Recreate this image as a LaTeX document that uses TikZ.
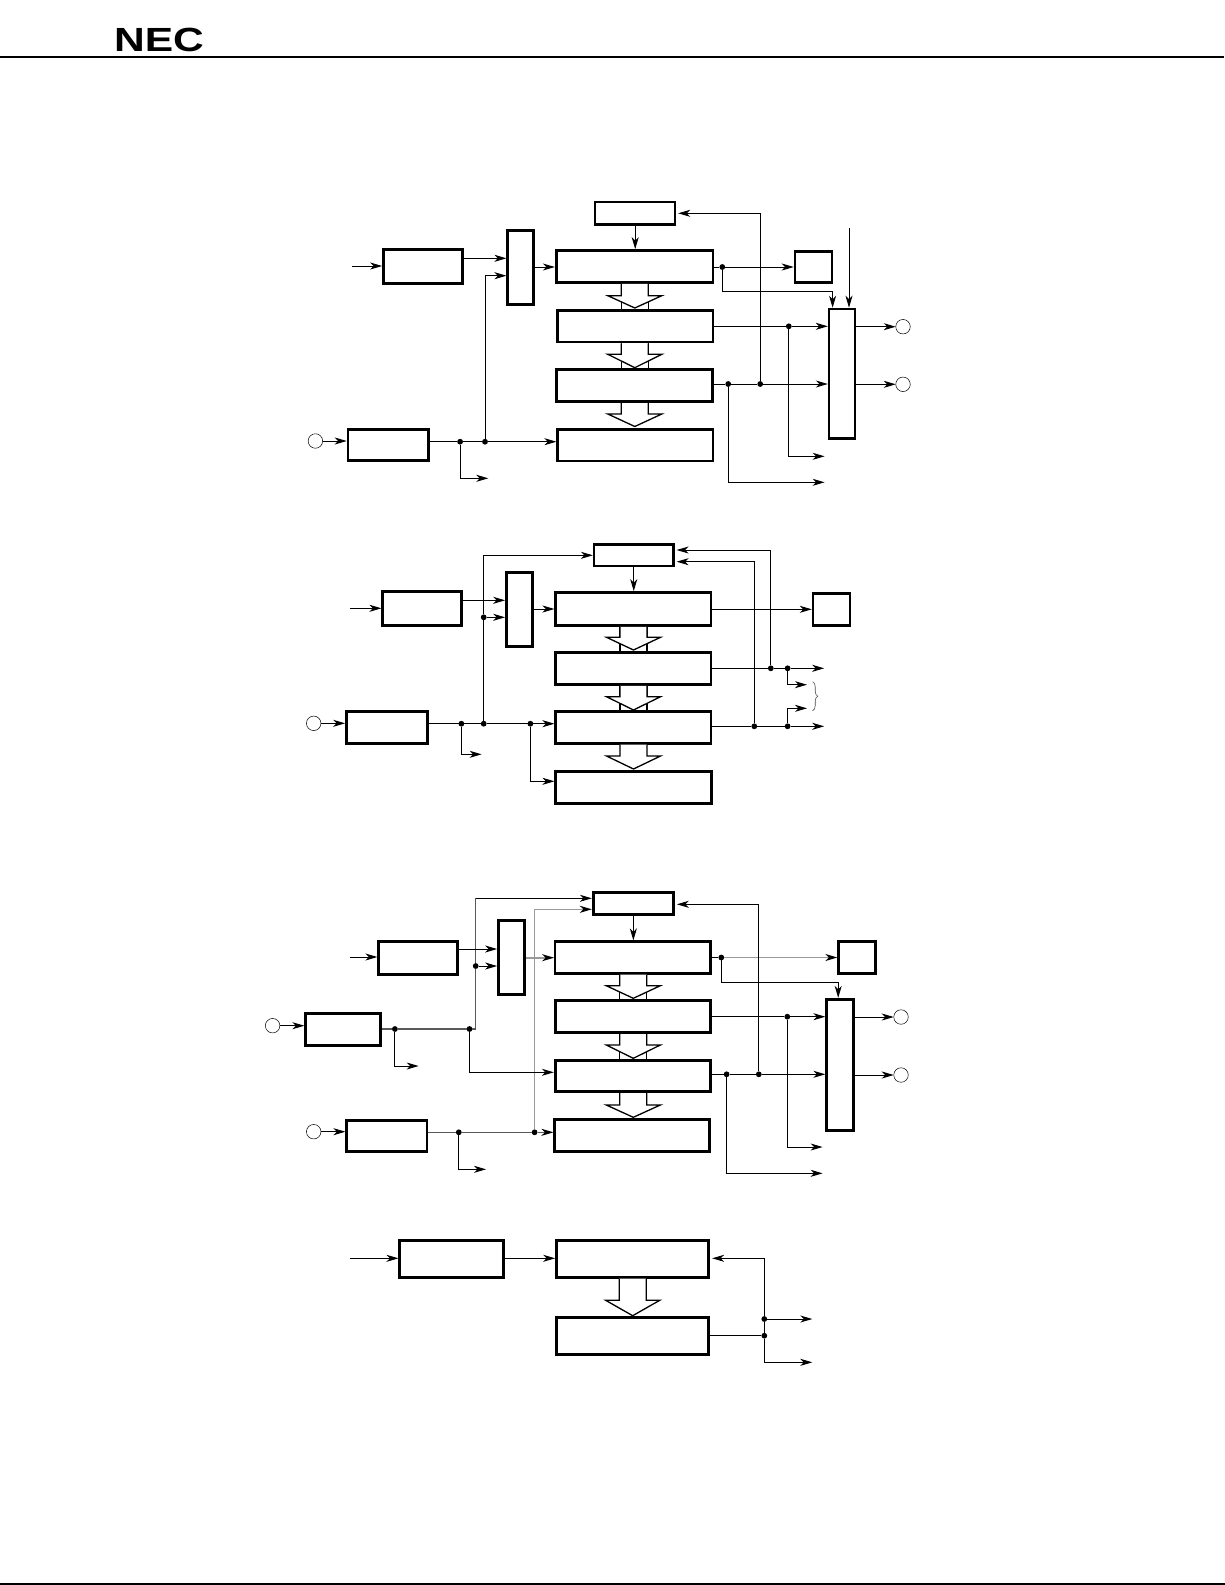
\documentclass[tikz,border=0pt]{standalone}
\usepackage{fontspec}
\setmainfont{Liberation Sans}
\usetikzlibrary{arrows.meta,decorations.pathreplacing}
\tikzset{
  heavy/.style={draw,rectangle,line width=2.7pt,inner sep=0pt},
  plain/.style={draw,rectangle,line width=2.2pt,inner sep=0pt},
  dot/.style={circle,fill=black,inner sep=0pt,outer sep=0pt,minimum size=5.8pt},
  ring/.style={draw,circle,line width=0.5pt,inner sep=0pt,outer sep=0pt,minimum size=14.5pt},
  conn/.style={line width=1pt},
  arr/.style={conn,-{Stealth[length=12pt,width=7pt,inset=3.5pt,color=black]}},
  bus/.style={line width=1.3pt,fill=white},
  pale/.style={draw=black!40,line width=1.6pt},
  dim/.style={draw=black!65,line width=1.2pt}
}
\newcommand{\blk}[6]{\node[#1,minimum width={(#5-#3-1)*1pt},minimum height={(#6-#4-1)*1pt}] (#2) at ({(#3+#5)/2},{(#4+#6)/2}) {};}
\newcommand{\busstem}[3]{\draw[bus] ({#3-13.5},0 |- #1.south) -- ({#3-13.5},0 |- #2.north) ({#3+13.5},0 |- #1.south) -- ({#3+13.5},0 |- #2.north);}
\newcommand{\bushead}[4]{\draw[bus] ({#2-13.5},0 |- #1.south) -- ({#2-13.5},#3) -- ({#2-27},#3) -- (#2,#4) -- ({#2+27},#3) -- ({#2+13.5},#3) -- ({#2+13.5},0 |- #1.south);}
\begin{document}
\begin{tikzpicture}[x=1pt,y=-1pt]
  \useasboundingbox (0,0) rectangle (1225,1585);
  \fill[white] (0,0) rectangle (1225,1585);
  \coordinate (headl) at (0,57);
  \coordinate (headr) at (1224,57);
  \coordinate (footl) at (0,1584);
  \coordinate (footr) at (1225,1584);
  \draw[line width=2pt] (headl) -- (headr);
  \draw[line width=2pt] (footl) -- (footr);
  \node[inner sep=0pt,xscale=1.27] (logo) at (159,40) {\fontsize{33.5}{34}\selectfont\bfseries NEC};

  \blk{plain}{topa}{594.8}{201.7}{675.6}{225}
  \blk{heavy}{maina}{555.7}{250}{713.5}{283}
  \blk{plain}{seca}{557}{310}{713.5}{342.7}
  \blk{heavy}{thia}{555.7}{369}{712.7}{402.3}
  \blk{plain}{foua}{557}{429}{713.5}{461.7}
  \blk{heavy}{ina}{383}{249.3}{463}{284}
  \blk{heavy}{sela}{507.3}{230}{534.2}{305}
  \blk{plain}{sma}{794.3}{251}{832.2}{283}
  \blk{plain}{talla}{828.4}{308.3}{855.8}{439}
  \blk{plain}{lowa}{347.3}{429}{429}{461}
  \node[ring] (ca) at (315.4,441) {};
  \node[ring] (ra1) at (903,326.7) {};
  \node[ring] (ra2) at (903,384.3) {};
  \node[dot] (d1a) at (722.3,267) {};
  \node[dot] (d2a) at (788.8,326.3) {};
  \node[dot] (d3a) at (728.2,384) {};
  \node[dot] (d4a) at (760.2,384) {};
  \node[dot] (d5a) at (460.1,441.7) {};
  \node[dot] (d6a) at (485,441.7) {};
  \coordinate (i1a) at (351.5,266);
  \coordinate (i2a) at (849,227.7);
  \coordinate (o1a) at (824.6,456.3);
  \coordinate (o2a) at (824.6,482.3);
  \coordinate (o3a) at (488.3,478.3);
  \busstem{maina}{seca}{634.8}
  \busstem{seca}{thia}{634.8}
  \bushead{maina}{634.8}{295.7}{308}
  \bushead{seca}{634.8}{354.3}{367.7}
  \bushead{thia}{634.8}{414}{426.5}
  \begin{scope}[every path/.style={arr}]
    \draw (i1a) -- (ina.west |- i1a);
    \draw (ina.east |- 0,258.3) -- (sela.west |- 0,258.3);
    \draw (d6a) |- (sela.west |- 0,275.7);
    \draw (sela.east |- 0,267) -- (maina.west |- 0,267);
    \draw (topa) -- (maina.north -| topa);
    \draw (maina.east |- d1a) -- (d1a) -- (sma.west |- d1a);
    \draw (d1a) |- (832.6,291.3) -- (832.6,0 |- talla.north);
    \draw (i2a) -- (i2a |- talla.north);
    \draw (seca.east |- d2a) -- (d2a) -- (talla.west |- d2a);
    \draw (d2a) |- (o1a);
    \draw (thia.east |- d3a) -- (d3a) -- (d4a) -- (talla.west |- d4a);
    \draw (d4a) |- ([xshift=2pt]topa.east |- 0,213.3);
    \draw (d3a) |- (o2a);
    \draw (talla.east |- ra1) -- (ra1);
    \draw (talla.east |- ra2) -- (ra2);
    \draw (ca) -- (lowa.west |- ca);
    \draw (lowa.east |- d5a) -- (d5a) -- (d6a) -- (foua.west |- d6a);
    \draw (d5a) |- (o3a);
  \end{scope}

  \blk{plain}{topb}{593.5}{544}{674}{566.7}
  \blk{heavy}{selb}{506}{572.3}{533}{647}
  \blk{heavy}{mainb}{555.3}{592}{711.4}{626}
  \blk{heavy}{secb}{555.3}{652.3}{711.4}{685}
  \blk{heavy}{thib}{555.3}{711.3}{711.4}{743.7}
  \blk{heavy}{foub}{555.3}{771}{712.2}{803.7}
  \blk{heavy}{inb}{382.3}{591.3}{462.2}{626}
  \blk{plain}{smb}{812.4}{593}{850.3}{626}
  \blk{heavy}{lowb}{346}{711}{428}{743.7}
  \node[ring] (cb) at (313.7,723.3) {};
  \node[dot] (d1b) at (483.7,617.3) {};
  \node[dot] (d2b) at (770.8,668.3) {};
  \node[dot] (d3b) at (787.6,668.3) {};
  \node[dot] (d4b) at (754.3,726.3) {};
  \node[dot] (d5b) at (787.6,726.3) {};
  \node[dot] (d6b) at (461.4,723.7) {};
  \node[dot] (d7b) at (483.7,723.7) {};
  \node[dot] (d8b) at (530.4,723.7) {};
  \coordinate (i1b) at (350.3,608.3);
  \coordinate (o1b) at (824.2,668.3);
  \coordinate (o2b) at (824.2,726.3);
  \coordinate (o3b) at (807,684.7);
  \coordinate (o4b) at (807,708.3);
  \coordinate (o5b) at (481.6,754.3);
  \coordinate (b1b) at (812.7,681.7);
  \coordinate (b2b) at (812.7,710.7);
  \busstem{mainb}{secb}{633.5}
  \busstem{secb}{thib}{633.5}
  \bushead{mainb}{633.5}{637.3}{650}
  \bushead{secb}{633.5}{696.7}{710}
  \bushead{thib}{633.5}{756}{769}
  \draw[line width=0.6pt,draw=black!70,decorate,decoration={brace,amplitude=5pt}] (b1b) -- (b2b);
  \begin{scope}[every path/.style={arr}]
    \draw (i1b) -- (inb.west |- i1b);
    \draw (inb.east |- 0,600.3) -- (selb.west |- 0,600.3);
    \draw (d1b) -- (selb.west |- d1b);
    \draw (d7b) -- (d1b) |- (topb.west |- 0,555.3);
    \draw (selb.east |- 0,609) -- (mainb.west |- 0,609);
    \draw (topb) -- (mainb.north -| topb);
    \draw (mainb.east |- 0,609.3) -- (smb.west |- 0,609.3);
    \draw (secb.east |- d2b) -- (d2b) -- (d3b) -- (o1b);
    \draw (d2b) |- ([xshift=2pt]topb.east |- 0,550);
    \draw (thib.east |- d4b) -- (d4b) -- (d5b) -- (o2b);
    \draw (d4b) |- ([xshift=2pt]topb.east |- 0,561.7);
    \draw (d3b) |- (o3b);
    \draw (d5b) |- (o4b);
    \draw (cb) -- (lowb.west |- cb);
    \draw (lowb.east |- d6b) -- (d6b) -- (d7b) -- (d8b) -- (thib.west |- d8b);
    \draw (d6b) |- (o5b);
    \draw (d8b) |- (foub.west |- 0,781.3);
  \end{scope}

  \blk{heavy}{topc}{592.7}{892.3}{674}{914.7}
  \blk{heavy}{selc}{498}{920}{525.3}{995}
  \blk{plain}{mainc}{554.7}{941}{711}{974}
  \blk{heavy}{secc}{554.7}{1000}{711}{1033.3}
  \blk{heavy}{thic}{554.7}{1060}{711}{1092.3}
  \blk{heavy}{fouc}{554.3}{1119}{710}{1151.7}
  \blk{plain}{inc}{378}{941}{457.9}{975}
  \blk{heavy}{midc}{305.2}{1013.3}{381}{1045.7}
  \blk{heavy}{lowc}{346.3}{1120}{427.5}{1152}
  \blk{heavy}{smc}{838.2}{941.3}{876.2}{974}
  \blk{heavy}{tallc}{826.2}{998.7}{854.3}{1130.7}
  \node[ring] (c1c) at (272.6,1025.7) {};
  \node[ring] (c2c) at (313.7,1131.7) {};
  \node[ring] (rc1) at (901,1017) {};
  \node[ring] (rc2) at (901,1075) {};
  \node[dot] (d1c) at (475.7,966) {};
  \node[dot] (d2c) at (394.9,1029) {};
  \node[dot] (d3c) at (469.5,1029) {};
  \node[dot] (d4c) at (721.3,957.5) {};
  \node[dot] (d5c) at (787.3,1016.7) {};
  \node[dot] (d6c) at (726.6,1074.3) {};
  \node[dot] (d7c) at (758.8,1074.3) {};
  \node[dot] (d8c) at (458.8,1132.3) {};
  \node[dot] (d9c) at (534.6,1132.3) {};
  \coordinate (i1c) at (350.3,957);
  \coordinate (e1c) at (475.7,1029);
  \coordinate (e2c) at (475.7,898.3);
  \coordinate (o1c) at (822.6,1147);
  \coordinate (o2c) at (822.6,1173.3);
  \coordinate (o3c) at (418.6,1066);
  \coordinate (o4c) at (486,1169.3);
  \busstem{mainc}{secc}{633.3}
  \busstem{secc}{thic}{633.3}
  \bushead{mainc}{633.3}{985.7}{998.3}
  \bushead{secc}{633.3}{1045}{1058.3}
  \bushead{thic}{633.3}{1105}{1117.3}
  \draw[conn,dim] (midc.east |- d2c) -- (d2c) -- (d3c) -- (e1c) -- (d1c) -- (e2c);
  \draw[conn,dim] (lowc.east |- d8c) -- (d8c);
  \draw[conn,pale] (d9c) -- (d9c |- 0,909.3);
  \begin{scope}[every path/.style={arr}]
    \draw (i1c) -- (inc.west |- i1c);
    \draw (inc.east |- 0,949) -- (selc.west |- 0,949);
    \draw (d1c) -- (selc.west |- d1c);
    \draw (e2c) -- (topc.west |- e2c);
    \draw[pale] (selc.east |- 0,957.7) -- (mainc.west |- 0,957.7);
    \draw (topc) -- (mainc.north -| topc);
    \draw[pale] (d4c) -- (smc.west |- d4c);
    \draw (mainc.east |- d4c) -- (d4c) |- (838.2,982.3) -- (838.2,0 |- tallc.north);
    \draw (secc.east |- d5c) -- (d5c) -- (tallc.west |- d5c);
    \draw (d5c) |- (o1c);
    \draw (thic.east |- d6c) -- (d6c) -- (d7c) -- (tallc.west |- d7c);
    \draw (d7c) |- ([xshift=2pt]topc.east |- 0,904.3);
    \draw (d6c) |- (o2c);
    \draw (tallc.east |- rc1) -- (rc1);
    \draw (tallc.east |- rc2) -- (rc2);
    \draw (c1c) -- (midc.west |- c1c);
    \draw (d2c) |- (o3c);
    \draw (d3c) |- (thic.west |- 0,1072.3);
    \draw (c2c) -- (lowc.west |- c2c);
    \draw[dim] (d8c) -- (d9c) -- (fouc.west |- d9c);
    \draw (d8c) |- (o4c);
    \draw[pale] (d9c |- 0,909.3) -- (topc.west |- 0,909.3);
  \end{scope}

  \blk{heavy}{ind}{399.3}{1240}{504.3}{1278}
  \blk{heavy}{maind}{556}{1240}{709.3}{1277.7}
  \blk{heavy}{secd}{556}{1317}{709.3}{1355}
  \node[dot] (d1d) at (764.3,1319) {};
  \node[dot] (d2d) at (764.3,1335.7) {};
  \coordinate (i1d) at (350,1258.3);
  \coordinate (o1d) at (812.3,1319);
  \coordinate (o2d) at (812.3,1362.3);
  \bushead{maind}{632.7}{1300.3}{1315.7}
  \draw[conn] (secd.east |- d2d) -- (d2d);
  \begin{scope}[every path/.style={arr}]
    \draw (i1d) -- (ind.west |- i1d);
    \draw (ind.east |- i1d) -- (maind.west |- i1d);
    \draw (d2d) -- (d1d) |- ([xshift=2pt]maind.east |- i1d);
    \draw (d1d) -- (o1d);
    \draw (d2d) |- (o2d);
  \end{scope}
\end{tikzpicture}
\end{document}
